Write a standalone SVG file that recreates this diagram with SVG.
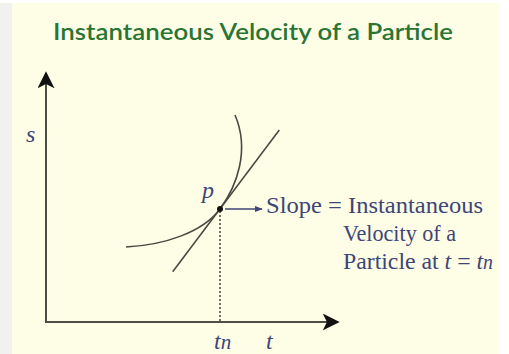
<svg xmlns="http://www.w3.org/2000/svg" width="509" height="354" viewBox="0 0 509 354">
  <defs>
    <marker id="axisHead" viewBox="0 0 10 10" refX="9" refY="5" markerWidth="17" markerHeight="17" markerUnits="userSpaceOnUse" orient="auto">
      <path d="M0,0 L10,5 L0,10 L2.5,5 Z" fill="#111"/>
    </marker>
    <marker id="smallHead" viewBox="0 0 10 10" refX="9" refY="5" markerWidth="8" markerHeight="8" markerUnits="userSpaceOnUse" orient="auto">
      <path d="M0,1 L10,5 L0,9 Z" fill="#3f4577"/>
    </marker>
  </defs>
  <style>
    .axis { stroke: #4d4d45; stroke-width: 2; fill: none; }
    .curve { stroke: #4a4a44; stroke-width: 1.6; fill: none; }
    .lbl { font-family: "Liberation Serif", "DejaVu Serif", serif; fill: #3f4577; font-size: 24px; }
    .ital { font-style: italic; }
    .title { font-family: Lato, "Open Sans", "Liberation Sans", sans-serif; fill: #2a7534; font-size: 23px; font-weight: 600; }
  </style>
  <rect x="0" y="0" width="509" height="354" fill="#ffffff"/>
  <rect x="0" y="3" width="12" height="351" fill="#f1f1ee"/>
  <rect x="12" y="3" width="487" height="351" fill="#fefee7"/>

  <g id="title">
    <text class="title" x="53" y="40" textLength="400" lengthAdjust="spacingAndGlyphs">Instantaneous Velocity of a Particle</text>
  </g>

  <g id="axes">
    <line class="axis" x1="46" y1="322" x2="46" y2="73" marker-end="url(#axisHead)"/>
    <line class="axis" x1="45" y1="322" x2="338" y2="322" marker-end="url(#axisHead)"/>
    <text class="lbl ital" x="26" y="142" font-size="28">s</text>
    <text class="lbl ital" x="214" y="349">t<tspan font-size="21">n</tspan></text>
    <text class="lbl ital" x="266" y="349">t</text>
  </g>

  <g id="curve">
    <path class="curve" d="M126,247 C165,245 203,232 220,209 C237,186 250,150 235,115"/>
  </g>

  <g id="tangent">
    <line class="curve" x1="172.7" y1="271.7" x2="279.3" y2="130"/>
  </g>

  <g id="point-p">
    <circle cx="220" cy="209" r="3" fill="#111"/>
    <text class="lbl ital" x="202" y="198" font-size="29">p</text>
  </g>

  <g id="connectors">
    <line x1="220" y1="211" x2="220" y2="321" stroke="#222" stroke-width="1.3" stroke-dasharray="2,2"/>
    <line x1="225" y1="209" x2="262" y2="209" stroke="#3f4577" stroke-width="1.3" marker-end="url(#smallHead)"/>
  </g>

  <g id="slope-label">
    <text class="lbl" x="266" y="213" textLength="217" lengthAdjust="spacingAndGlyphs">Slope = Instantaneous</text>
    <text class="lbl" x="343" y="241" textLength="113" lengthAdjust="spacingAndGlyphs">Velocity of a</text>
    <text class="lbl" x="343" y="269" textLength="150" lengthAdjust="spacingAndGlyphs">Particle at <tspan class="ital">t</tspan> = <tspan class="ital">t</tspan><tspan class="ital" font-size="20">n</tspan></text>
  </g>
</svg>
